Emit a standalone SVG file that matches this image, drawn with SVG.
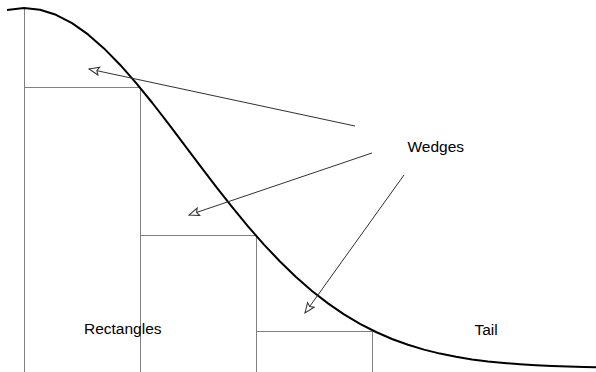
<svg xmlns="http://www.w3.org/2000/svg" width="596" height="372" viewBox="0 0 596 372">
<style>
.rect{stroke:#808080;stroke-width:1;fill:none}
.curve{stroke:#000;stroke-width:2;fill:none;stroke-linejoin:round}
.arrow{stroke:#303030;stroke-width:1;fill:none;marker-end:url(#head)}
text{font-family:"Liberation Sans",Arial,sans-serif;font-size:15.5px;fill:#000}
</style>
<defs>
<marker id="head" viewBox="0 0 12 10" refX="11" refY="5" markerWidth="12" markerHeight="10" markerUnits="userSpaceOnUse" orient="auto">
<path d="M1,1 L11,5 L1,9 L3,5 Z" fill="#fff" stroke="#303030" stroke-width="1"/>
</marker>
</defs>
<rect width="596" height="372" fill="#fff"/>
<g id="rectangles">
<line class="rect" x1="24.5" y1="9" x2="24.5" y2="372"/>
<line class="rect" x1="24" y1="87.5" x2="140" y2="87.5"/>
<line class="rect" x1="140.5" y1="87" x2="140.5" y2="372"/>
<line class="rect" x1="140" y1="235.5" x2="256" y2="235.5"/>
<line class="rect" x1="256.5" y1="235" x2="256.5" y2="372"/>
<line class="rect" x1="256" y1="331.5" x2="372" y2="331.5"/>
<line class="rect" x1="372.5" y1="331" x2="372.5" y2="372"/>
</g>
<g id="curve">
<polyline class="curve" points="7,9.9 24,8 40,9.7 56,14.8 72,23.1 88,34.4 104,48.4 120,64.7 136,82.9 152,102.5 168,123.2 184,144.3 200,165.6 216,186.6 232,206.9 248,226.4 264,244.6 280,261.5 296,277 312,291 328,303.4 344,314.4 360,323.9 376,332 392,339 408,344.8 424,349.6 440,353.6 456,356.8 472,359.4 488,361.4 504,363 520,364.3 536,365.3 552,366 568,366.5 584,366.9 596,367.2"/>
</g>
<g id="connectors">
<line class="arrow" x1="355" y1="126" x2="89" y2="69"/>
<line class="arrow" x1="372" y1="153" x2="189" y2="215"/>
<line class="arrow" x1="404" y1="175" x2="305" y2="313"/>
</g>
<g id="label-wedges"><text x="407.5" y="152">Wedges</text></g>
<g id="label-rectangles"><text x="84" y="333.5">Rectangles</text></g>
<g id="label-tail"><text x="474.5" y="334.5">Tail</text></g>
</svg>
